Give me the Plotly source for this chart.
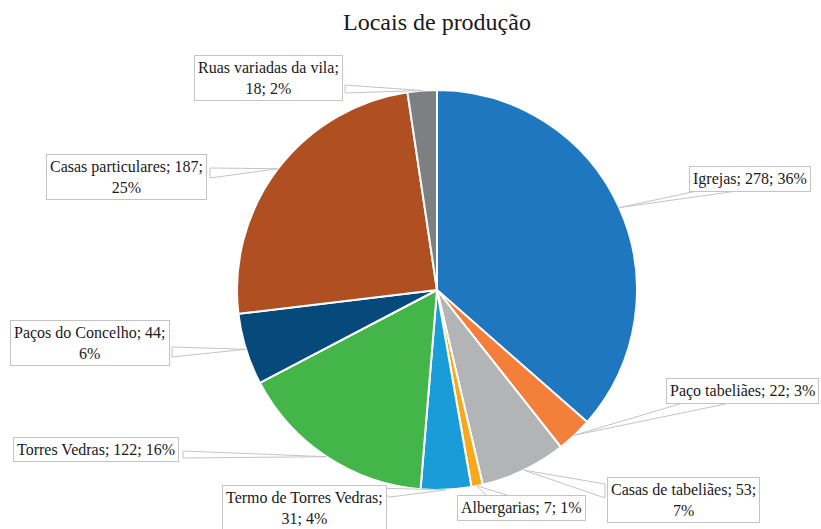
import math
import plotly.graph_objects as go

labels = ["Igrejas", "Paço tabeliães", "Casas de tabeliães", "Albergarias",
          "Termo de Torres Vedras", "Torres Vedras", "Paços do Concelho",
          "Casas particulares", "Ruas variadas da vila"]
values = [278, 22, 53, 7, 31, 122, 44, 187, 18]
colors = ["#1f77c0", "#f47f3b", "#b2b4b6", "#f7a81b", "#1a9cd8",
          "#44b549", "#064a7c", "#b04f22", "#7d8083"]

W, H = 821, 529
CX, CY, R = 437, 290, 200
FONT = "'Liberation Serif', 'Times New Roman', serif"

# label layout (pixel positions): box center, line break flag, pointer base points
layout_info = {
    "Igrejas": dict(c=(750, 179), br=False, base=[(697, 191), (737, 191)]),
    "Paço tabeliães": dict(c=(742, 391), br=False, base=[(683, 403), (730, 403)]),
    "Casas de tabeliães": dict(c=(683, 500), br=True, base=[(605, 484), (605, 498)]),
    "Albergarias": dict(c=(521, 508), br=False, base=[(487, 496), (510, 496)]),
    "Termo de Torres Vedras": dict(c=(304, 508), br=True, base=[(370, 488), (390, 497)]),
    "Torres Vedras": dict(c=(96, 449), br=False, base=[(183, 451), (183, 458)]),
    "Paços do Concelho": dict(c=(90, 343), br=True, base=[(172, 347), (172, 357)]),
    "Casas particulares": dict(c=(127, 177), br=True, base=[(210, 168), (210, 178)]),
    "Ruas variadas da vila": dict(c=(268, 78), br=True, base=[(345, 85), (345, 93)]),
}

def px(x):
    return x / W

def py(y):
    return 1 - y / H

fig = go.Figure(go.Pie(
    labels=labels, values=values, sort=False, direction="clockwise", rotation=0,
    marker=dict(colors=colors, line=dict(color="white", width=2)),
    textinfo="none", hoverinfo="label+value+percent",
    domain=dict(x=[px(CX - R), px(CX + R)], y=[py(CY + R), py(CY - R)]),
    showlegend=False,
))

total = sum(values)
cum = 0
shapes = []
annotations = []
for lab, v in zip(labels, values):
    mid = (cum + v / 2) / total * 2 * math.pi
    cum += v
    tx = CX + R * math.sin(mid)
    ty = CY - R * math.cos(mid)
    info = layout_info[lab]
    pct = round(v / total * 100)
    if info["br"]:
        if lab == "Ruas variadas da vila" or lab == "Termo de Torres Vedras":
            text = f"{lab};<br>{v}; {pct}%"
        else:
            text = f"{lab}; {v};<br>{pct}%"
    else:
        text = f"{lab}; {v}; {pct}%"
    (b1x, b1y), (b2x, b2y) = info["base"]
    path = (f"M {px(tx)} {py(ty)} L {px(b1x)} {py(b1y)} "
            f"L {px(b2x)} {py(b2y)} Z")
    shapes.append(dict(type="path", xref="paper", yref="paper", path=path,
                       fillcolor="white", line=dict(color="#c4c4c4", width=1),
                       layer="above"))
    annotations.append(dict(
        x=px(info["c"][0]), y=py(info["c"][1]), xref="paper", yref="paper",
        text=text, showarrow=False, xanchor="center", yanchor="middle",
        font=dict(family=FONT, size=16, color="#1a1a1a"),
        bgcolor="white", bordercolor="#c4c4c4", borderwidth=1, borderpad=3,
        align="center",
    ))

annotations.append(dict(
    x=px(437), y=py(22), xref="paper", yref="paper", text="Locais de produção",
    showarrow=False, xanchor="center", yanchor="middle",
    font=dict(family=FONT, size=24, color="#1a1a1a"),
))

fig.update_layout(
    width=W, height=H, margin=dict(l=0, r=0, t=0, b=0),
    paper_bgcolor="white", plot_bgcolor="white",
    font=dict(family=FONT),
    shapes=shapes, annotations=annotations,
)

fig.write_html("out.html", config={"displayModeBar": False})

# remove default page margin so the figure sits at the window's top-left corner
with open("out.html", encoding="utf-8") as f:
    html = f.read()
html = html.replace("<head>", "<head><style>html,body{margin:0;padding:0;overflow:hidden;}</style>", 1)
with open("out.html", "w", encoding="utf-8") as f:
    f.write(html)
